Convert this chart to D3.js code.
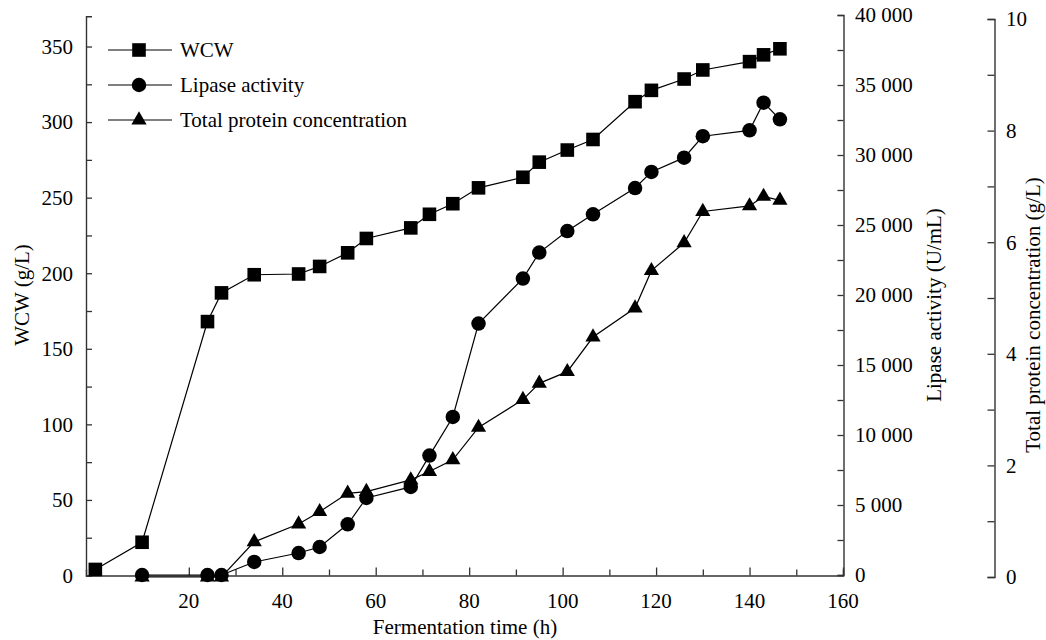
<!DOCTYPE html>
<html>
<head>
<meta charset="utf-8">
<script src="https://cdn.jsdelivr.net/npm/d3@7"></script>
<style>
  body { margin: 0; background: #fff; }
  svg text { font-family: "Times New Roman", "Liberation Serif", serif; fill: #000; }
</style>
</head>
<body>
<div id="chart"></div>
<script>
// fermentation time (h)
const time = [0, 10, 24, 27, 34, 43.5, 48, 54, 58, 67.5, 71.5, 76.5, 82, 91.5, 95, 101, 106.5, 115.5, 119, 126, 130, 140, 143, 146.5];
// WCW (g/L)
const wcw = [4, 22, 168, 187, 199, 199.5, 204.5, 213.5, 223, 230, 239, 246, 256.5, 263.5, 273.5, 281.5, 288.5, 313.5, 321, 328.5, 334.5, 340, 344.5, 348.5];
// lipase activity (U/mL), no sample at t=0
const lipase = [null, 0, 0, 0, 930, 1570, 2000, 3620, 5500, 6290, 8530, 11290, 17960, 21170, 23030, 24570, 25760, 27640, 28790, 29810, 31340, 31760, 33740, 32550];
// total protein concentration (g/L)
const protein = [null, 0, 0, 0, 0.63, 0.95, 1.17, 1.5, 1.53, 1.74, 1.89, 2.1, 2.68, 3.18, 3.47, 3.68, 4.3, 4.82, 5.49, 5.99, 6.55, 6.65, 6.82, 6.75];

const xTicks = [20, 40, 60, 80, 100, 120, 140, 160];
const wcwTicks = [0, 50, 100, 150, 200, 250, 300, 350];
const lipaseTicks = [0, 5000, 10000, 15000, 20000, 25000, 30000, 35000, 40000];
const proteinTicks = [0, 2, 4, 6, 8, 10];

const labels = ["WCW", "Lipase activity", "Total protein concentration"];

const width = 1046, height = 640;
const svg = d3.select("#chart").append("svg")
    .attr("width", width)
    .attr("height", height);

const x = d3.scaleLinear().domain([-2, 160]).range([86, 843]);
const yL = d3.scaleLinear().domain([0, 370]).range([575.5, 16.3]);
const yR = d3.scaleLinear().domain([0, 40000]).range([575, 15]);
const yP = d3.scaleLinear().domain([0, 10]).range([577, 19]);

const fs = "21px";
const fmtSpace = n => d3.format(",")(n).replace(/,/g, " ");

function styleAxis(g) {
    g.select(".domain").attr("stroke", "#333").attr("stroke-width", 1.4);
    g.selectAll(".tick line").attr("stroke", "#333").attr("stroke-width", 1.3);
}

// x axis
const gx = svg.append("g").attr("transform", "translate(0,575.5)")
    .call(d3.axisTop(x).tickValues(d3.range(10, 161, 10)).tickSize(6).tickFormat(""));
gx.selectAll(".tick").filter(d => d % 20 === 0).select("line").attr("y2", -8);
styleAxis(gx);
svg.append("g").selectAll("text").data(xTicks).join("text")
    .attr("x", d => x(d)).attr("y", 608)
    .attr("text-anchor", "middle").style("font-size", fs)
    .text(d => d);

// left axis (WCW)
const gl = svg.append("g").attr("transform", "translate(86,0)")
    .call(d3.axisRight(yL).tickValues(d3.range(0, 351, 25)).tickSize(6).tickFormat(""));
styleAxis(gl);
svg.append("g").selectAll("text").data(wcwTicks).join("text")
    .attr("x", 73).attr("y", d => yL(d)).attr("dy", "0.35em")
    .attr("text-anchor", "end").style("font-size", fs)
    .text(d => d);

// right axis (lipase)
const gr = svg.append("g").attr("transform", "translate(843.5,0)")
    .call(d3.axisLeft(yR).tickValues(d3.range(0, 40001, 2500)).tickSize(6).tickFormat(""));
styleAxis(gr);
svg.append("g").selectAll("text").data(lipaseTicks).join("text")
    .attr("x", 855).attr("y", d => yR(d)).attr("dy", "0.35em")
    .style("font-size", fs)
    .text(d => fmtSpace(d));

// far right axis (protein)
const gp = svg.append("g").attr("transform", "translate(994.5,0)")
    .call(d3.axisLeft(yP).tickValues(d3.range(0, 11, 1)).tickSize(7).tickFormat(""));
styleAxis(gp);
svg.append("g").selectAll("text").data(proteinTicks).join("text")
    .attr("x", 1006).attr("y", d => yP(d)).attr("dy", "0.35em")
    .style("font-size", fs)
    .text(d => d);

// axis titles
svg.append("text").attr("transform", "translate(29,295) rotate(-90)")
    .attr("text-anchor", "middle").style("font-size", fs).text("WCW (g/L)");
svg.append("text").attr("transform", "translate(941,305) rotate(-90)")
    .attr("text-anchor", "middle").style("font-size", fs).text("Lipase activity (U/mL)");
svg.append("text").attr("transform", "translate(1040,315) rotate(-90)")
    .attr("text-anchor", "middle").style("font-size", fs).text("Total protein concentration (g/L)");
svg.append("text").attr("x", 465).attr("y", 634)
    .attr("text-anchor", "middle").style("font-size", fs).text("Fermentation time (h)");

// series
const series = [
    { values: wcw, y: yL, shape: d3.symbolSquare, size: 185 },
    { values: lipase, y: yR, shape: d3.symbolCircle, size: 165 },
    { values: protein, y: yP, shape: d3.symbolTriangle, size: 100 }
];

series.forEach(s => {
    const pts = time.map((t, i) => [t, s.values[i]]).filter(p => p[1] != null);
    svg.append("path")
        .datum(pts)
        .attr("fill", "none")
        .attr("stroke", "#000")
        .attr("stroke-width", 1.2)
        .attr("d", d3.line().x(d => x(d[0])).y(d => s.y(d[1])));
    svg.append("g").selectAll("path").data(pts).join("path")
        .attr("transform", d => `translate(${x(d[0])},${s.y(d[1])})`)
        .attr("d", d3.symbol().type(s.shape).size(s.size))
        .attr("fill", "#000");
});

// legend
const legend = svg.append("g");
series.forEach((s, i) => {
    const ly = 50 + i * 35;
    legend.append("line").attr("x1", 108).attr("x2", 172).attr("y1", ly).attr("y2", ly)
        .attr("stroke", "#000").attr("stroke-width", 1.2);
    legend.append("path").attr("transform", `translate(139,${ly})`)
        .attr("d", d3.symbol().type(s.shape).size(s.size)).attr("fill", "#000");
    legend.append("text").attr("x", 180).attr("y", ly).attr("dy", "0.35em")
        .style("font-size", fs).text(labels[i]);
});
</script>
</body>
</html>
